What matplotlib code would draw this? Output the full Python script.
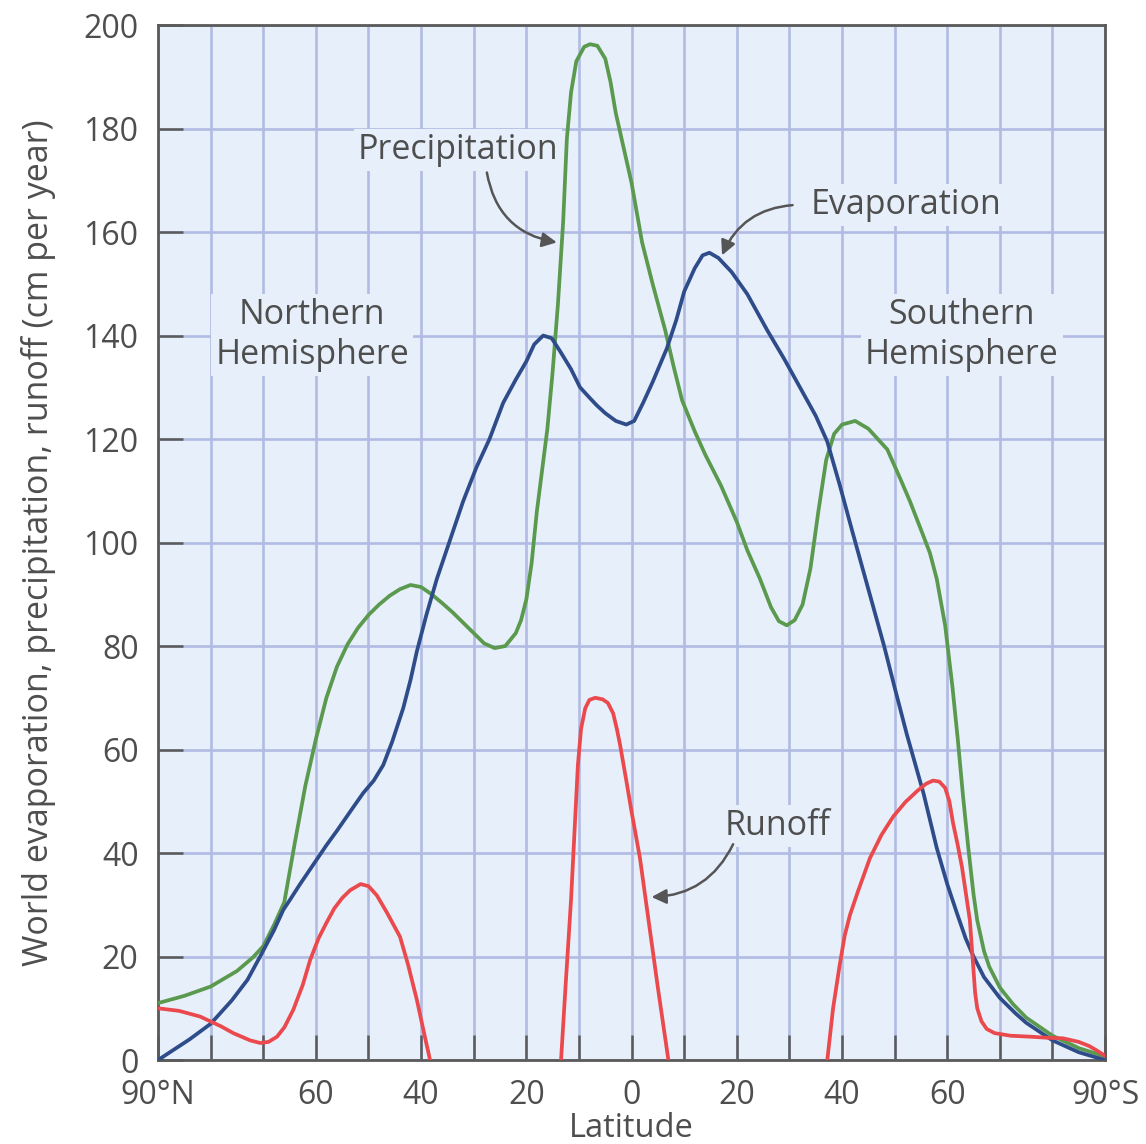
import numpy as np
import matplotlib
matplotlib.use("Agg")
import matplotlib.pyplot as plt

plt.rcParams['font.family'] = ['Open Sans', 'DejaVu Sans']

# Latitude in degrees: positive = north, negative = south
precip_lat = [90, 85, 80, 75, 72, 70, 68, 66, 64, 62, 60, 58, 56, 54, 52, 50, 48, 46, 44, 42,
              40, 38, 36, 34, 32, 30, 28, 26, 24, 22, 21, 20, 19, 18, 17, 16, 15, 14, 13, 12.3,
              11.5, 10.5, 9, 7.9, 6.5, 5, 4, 3, 2, 0, -2, -4, -6.4, -8, -9.6, -12, -14, -17, -20,
              -22, -24.4, -26.5, -28, -29.5, -31, -32.5, -34, -35.5, -37, -38.5, -40, -42.5, -45,
              -48.6, -51, -52.9, -55, -56.7, -58, -59.6, -61, -62, -63, -64, -65, -65.7, -67, -68,
              -70, -72.5, -75, -80, -85, -90]
precip_val = [11, 12.4, 14.2, 17.2, 19.8, 22, 26, 30.5, 42, 53, 62, 70, 76, 80.3, 83.5, 86, 88,
              89.7, 91, 91.8, 91.4, 90, 88.3, 86.5, 84.5, 82.5, 80.5, 79.6, 80, 82.5, 85, 89, 96,
              106, 114, 122, 133, 146, 162, 178, 187, 193, 195.8, 196.3, 196, 193.5, 189, 183,
              178.5, 169.5, 158, 150, 141, 134, 127.5, 121.5, 117, 111, 104, 98.5, 93, 87.5, 84.8,
              84, 85, 88, 95, 106, 116, 121, 122.8, 123.5, 122, 118, 112.5, 108, 102.5, 98, 93,
              84, 72, 62, 51, 41, 32, 27, 21, 18, 14, 10.8, 8.2, 4.7, 2.3, 0.7]

evap_lat = [90, 87, 84, 80, 76, 73, 70.6, 68, 66.2, 64.9, 63, 61, 58, 56, 53, 51, 49, 47.2, 45.5,
            43.4, 42, 40.8, 39, 37, 34.5, 32, 29.5, 27, 24.4, 22, 20, 18.5, 16.8, 15.2, 13.6, 11.5,
            9.8, 8, 6.6, 5, 3, 1, -0.5, -2.2, -4, -6.7, -8.5, -10, -12, -13.5, -14.8, -16.5, -19,
            -22, -25.8, -29, -32, -35, -37.2, -39.6, -42, -45, -48, -50, -52.3, -55.5, -58, -60,
            -61.8, -63.5, -65, -67, -70, -73, -75, -80, -85, -90]
evap_val = [0, 2, 4, 7, 11.5, 15.5, 20, 25, 29, 31, 34, 37, 41.5, 44.3, 48.7, 51.6, 54, 57, 61.5,
            68, 73.5, 79, 86, 93, 100.5, 108, 114.5, 120, 127, 131.5, 135, 138.3, 140, 139.5, 137,
            133.5, 130, 128, 126.5, 125, 123.5, 122.8, 123.5, 127, 131, 137.5, 143, 148.5, 153,
            155.5, 156, 155, 152.3, 148, 141, 135.5, 130, 124.5, 119.5, 111, 102, 91, 80, 72, 63,
            51.5, 41, 34, 28.5, 23.5, 20, 16, 12, 9, 7.2, 3.8, 1.5, 0]

# Runoff is only drawn where it is positive; NaN separates the three pieces
runoff_lat = [90, 86, 82, 78, 75.7, 72.5, 70.6, 69, 67.4, 66, 64.3, 62.5, 61.1, 59.5, 58, 56.5, 55,
              53.5, 51.5, 50, 48.4, 46.5, 44, 42.5, 40.8, 39.5, 38.3, np.nan,
              13.4, 12.5, 11.5, 10.8, 10.2, 9.6, 8.8, 8, 6.9, 5.5, 4.5, 3.5, 2.8, 2.2, 1, 0, -1.6,
              -3.5, -5, -7, np.nan,
              -37.2, -38.3, -39.5, -40.5, -41.5, -43, -45.3, -47.5, -49.7, -52, -54.3, -56, -57.3,
              -58.5, -59.6, -60.4, -61.1, -62, -62.8, -63.5, -64.3, -64.8, -65.3, -65.7, -66.5,
              -67.5, -69, -72, -76, -79, -82, -85, -87, -88.5, -90]
runoff_val = [10, 9.5, 8.4, 6.5, 5.2, 3.8, 3.3, 3.5, 4.5, 6.3, 9.7, 14.5, 19.3, 23.5, 26.5, 29.3,
              31.3, 32.8, 34, 33.6, 31.8, 28.5, 23.8, 18.5, 11.6, 5.5, 0, np.nan,
              0, 15, 31, 45, 57, 64, 68, 69.6, 70, 69.7, 69, 67, 64, 61, 54, 48, 39, 25, 14, 0,
              np.nan,
              0, 10, 18, 24, 28, 32.5, 39, 43.5, 47, 49.8, 52, 53.4, 54, 53.8, 52.6, 50, 45.8,
              41.5, 37.3, 32.5, 27, 20, 13, 10, 7.5, 6, 5.2, 4.7, 4.5, 4.3, 4.2, 3.5, 2.7, 1.8,
              0.8]

x_ticks = list(range(90, -91, -10))
x_tick_labels = {90: "90°N", 60: "60", 40: "40", 20: "20", 0: "0",
                 -20: "20", -40: "40", -60: "60", -90: "90°S"}
y_ticks = list(range(0, 201, 20))

BG = "#e7f0fa"
GRID = "#b1bbe3"
TEXT = "#4e4e4e"
SPINE = "#5a5a5a"

fig = plt.figure(figsize=(11.46, 11.44), dpi=100)
ax = fig.add_axes([0.1379, 0.0734, 0.8264, 0.9047])
ax.set_facecolor(BG)

line_kw = dict(lw=2.7, solid_joinstyle="round", solid_capstyle="round")
ax.plot(precip_lat, precip_val, color="#5b9a4e", zorder=4, **line_kw)
ax.plot(evap_lat, evap_val, color="#2f4c8a", zorder=5, **line_kw)
ax.plot(runoff_lat, runoff_val, color="#ea4a4d", zorder=6, **line_kw)

ax.set_xlim(90, -90)
ax.set_ylim(0, 200)

ax.set_xticks(x_ticks)
ax.set_xticklabels([x_tick_labels.get(t, "") for t in x_ticks])
ax.set_yticks(y_ticks)

ax.grid(True, color=GRID, lw=1.9, zorder=0)
ax.set_axisbelow(True)

ax.tick_params(axis="x", direction="in", length=18, width=1.8, color=SPINE,
               labelsize=23, labelcolor=TEXT, pad=14)
ax.tick_params(axis="y", direction="in", length=18, width=1.8, color=SPINE,
               labelsize=23, labelcolor=TEXT, pad=14)
for s in ax.spines.values():
    s.set_color(SPINE)
    s.set_linewidth(2)

ax.set_xlabel("Latitude", fontsize=23.5, color=TEXT, labelpad=0)
ax.set_ylabel("World evaporation, precipitation, runoff (cm per year)", fontsize=24.5,
              color=TEXT, labelpad=20)

box = dict(boxstyle="square,pad=0.12", facecolor=BG, edgecolor="none")
txt_kw = dict(fontsize=24.5, color=TEXT, ha="center", va="center", zorder=3, bbox=box)

ax.text(33.0, 175.8, "Precipitation", **txt_kw)
ax.text(-52.2, 165.2, "Evaporation", **txt_kw)
ax.text(-27.7, 45.2, "Runoff", **txt_kw)
ax.text(60.7, 140.1, "Northern\nHemisphere", linespacing=1.2, **txt_kw)
ax.text(-62.8, 140.1, "Southern\nHemisphere", linespacing=1.2, **txt_kw)

arrow_kw = dict(arrowstyle="-|>", color="#555555", lw=1.8, mutation_scale=22,
                shrinkA=0, shrinkB=0)
ax.annotate("", xy=(14.2, 158), xytext=(27.5, 171.5),
            arrowprops=dict(connectionstyle="arc3,rad=0.35", **arrow_kw), zorder=7)
ax.annotate("", xy=(-17.2, 155.5), xytext=(-30.6, 165.2),
            arrowprops=dict(connectionstyle="arc3,rad=0.3", **arrow_kw), zorder=7)
ax.annotate("", xy=(-3.8, 31.5), xytext=(-19.3, 41.7),
            arrowprops=dict(connectionstyle="arc3,rad=-0.3", **arrow_kw), zorder=7)

fig.savefig("out.png", dpi=100, facecolor="white")
